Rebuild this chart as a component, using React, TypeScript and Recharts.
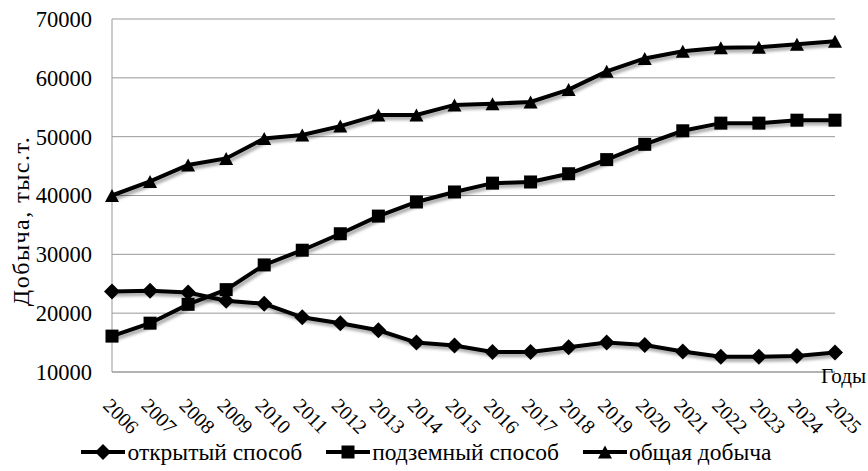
import React from 'react';
import { LineChart, Line, XAxis, YAxis, CartesianGrid, Legend } from 'recharts';

document.body.style.margin = '0';

const years = [
  '2006', '2007', '2008', '2009', '2010', '2011', '2012', '2013', '2014', '2015',
  '2016', '2017', '2018', '2019', '2020', '2021', '2022', '2023', '2024', '2025',
];
const openPit = [
  23700, 23800, 23500, 22100, 21600, 19300, 18300, 17100, 15000, 14500,
  13400, 13400, 14200, 15000, 14600, 13500, 12600, 12600, 12700, 13300,
];
const underground = [
  16100, 18300, 21500, 24000, 28200, 30700, 33500, 36500, 38900, 40600,
  42100, 42300, 43700, 46100, 48700, 51000, 52300, 52300, 52800, 52800,
];
const total = [
  40000, 42400, 45200, 46300, 49700, 50300, 51800, 53700, 53700, 55400,
  55600, 55900, 58000, 61100, 63300, 64500, 65100, 65200, 65700, 66200,
];
const yTicks = [10000, 20000, 30000, 40000, 50000, 60000, 70000];

const seriesNames = ['открытый способ', 'подземный способ', 'общая добыча'];

const data = years.map((year, i) => ({
  year,
  open: openPit[i],
  under: underground[i],
  total: total[i],
}));

const FONT = 'Liberation Serif, DejaVu Serif, serif';

type Shape = 'diamond' | 'square' | 'triangle';

const marker = (shape: Shape, cx: number, cy: number, key?: string) => {
  if (shape === 'diamond') {
    const r = 8;
    return <path key={key} d={`M${cx},${cy - r}L${cx + r},${cy}L${cx},${cy + r}L${cx - r},${cy}Z`} fill="#000" />;
  }
  if (shape === 'square') {
    const r = 6.5;
    return <rect key={key} x={cx - r} y={cy - r} width={r * 2} height={r * 2} fill="#000" />;
  }
  const h = 6.5;
  return <path key={key} d={`M${cx},${cy - h}L${cx + 7},${cy + h}L${cx - 7},${cy + h}Z`} fill="#000" />;
};

const dotFor = (shape: Shape) => (props: any) => {
  const { cx, cy, index } = props;
  if (cx == null || cy == null) return <g key={`n-${index}`} />;
  return marker(shape, cx, cy, `${shape}-${index}`);
};

const YearTick = (props: any) => {
  const { x, y, payload } = props;
  return (
    <g transform={`translate(${x},${y})`}>
      <text x={12} y={26} transform="rotate(45)" textAnchor="start" fontSize={20} fontFamily={FONT} fill="#000">
        {payload.value}
      </text>
    </g>
  );
};

const shapes: Shape[] = ['diamond', 'square', 'triangle'];

const LegendContent = () => (
  <div
    style={{
      display: 'flex',
      justifyContent: 'center',
      gap: 24,
      paddingLeft: 18,
      fontFamily: FONT,
      fontSize: 23.5,
      lineHeight: '24px',
    }}
  >
    {seriesNames.map((name, i) => (
      <div key={name} style={{ display: 'flex', alignItems: 'center' }}>
        <svg width={44} height={18}>
          <line x1={0} y1={9} x2={44} y2={9} stroke="#000" strokeWidth={4} />
          {marker(shapes[i], 22, 9)}
        </svg>
        <span style={{ marginLeft: 2 }}>{name}</span>
      </div>
    ))}
  </div>
);

export default function App() {
  return (
    <div style={{ width: 868, height: 471, background: '#fff', position: 'relative' }}>
      <svg width={0} height={0} style={{ position: 'absolute' }}>
        <defs>
          <filter id="lineShadow" x="-5%" y="-20%" width="115%" height="150%">
            <feDropShadow dx="2" dy="3" stdDeviation="1.5" floodColor="#000" floodOpacity="0.35" />
          </filter>
        </defs>
      </svg>
      <style>{'.recharts-line { filter: url(#lineShadow); }'}</style>
      <LineChart width={868} height={471} data={data} margin={{ top: 19, right: 33, left: 0, bottom: 0 }}>
        <CartesianGrid vertical={false} stroke="#999" strokeWidth={1} />
        <XAxis
          dataKey="year"
          interval={0}
          tickLine={false}
          axisLine={{ stroke: '#999' }}
          height={68}
          tick={<YearTick />}
          label={{
            content: () => (
              <text x={866} y={383} textAnchor="end" fontSize={21} fontFamily={FONT} fill="#000">
                Годы
              </text>
            ),
          }}
        />
        <YAxis
          width={112}
          domain={[10000, 70000]}
          ticks={yTicks}
          interval={0}
          tickLine={false}
          tickMargin={14}
          axisLine={{ stroke: '#999' }}
          tick={{ fill: '#000', fontSize: 22.5, fontFamily: FONT }}
          label={{
            content: () => (
              <text
                x={29}
                y={221}
                transform="rotate(-90, 29, 221)"
                textAnchor="middle"
                fontSize={24}
                letterSpacing={1.5}
                fontFamily={FONT}
                fill="#000"
              >
                Добыча, тыс.т.
              </text>
            ),
          }}
        />
        <Legend verticalAlign="bottom" height={31} content={<LegendContent />} />
        <Line dataKey="open" name={seriesNames[0]} stroke="#000" strokeWidth={4} dot={dotFor('diamond')} activeDot={false} isAnimationActive={false} />
        <Line dataKey="under" name={seriesNames[1]} stroke="#000" strokeWidth={4} dot={dotFor('square')} activeDot={false} isAnimationActive={false} />
        <Line dataKey="total" name={seriesNames[2]} stroke="#000" strokeWidth={4} dot={dotFor('triangle')} activeDot={false} isAnimationActive={false} />
      </LineChart>
    </div>
  );
}
